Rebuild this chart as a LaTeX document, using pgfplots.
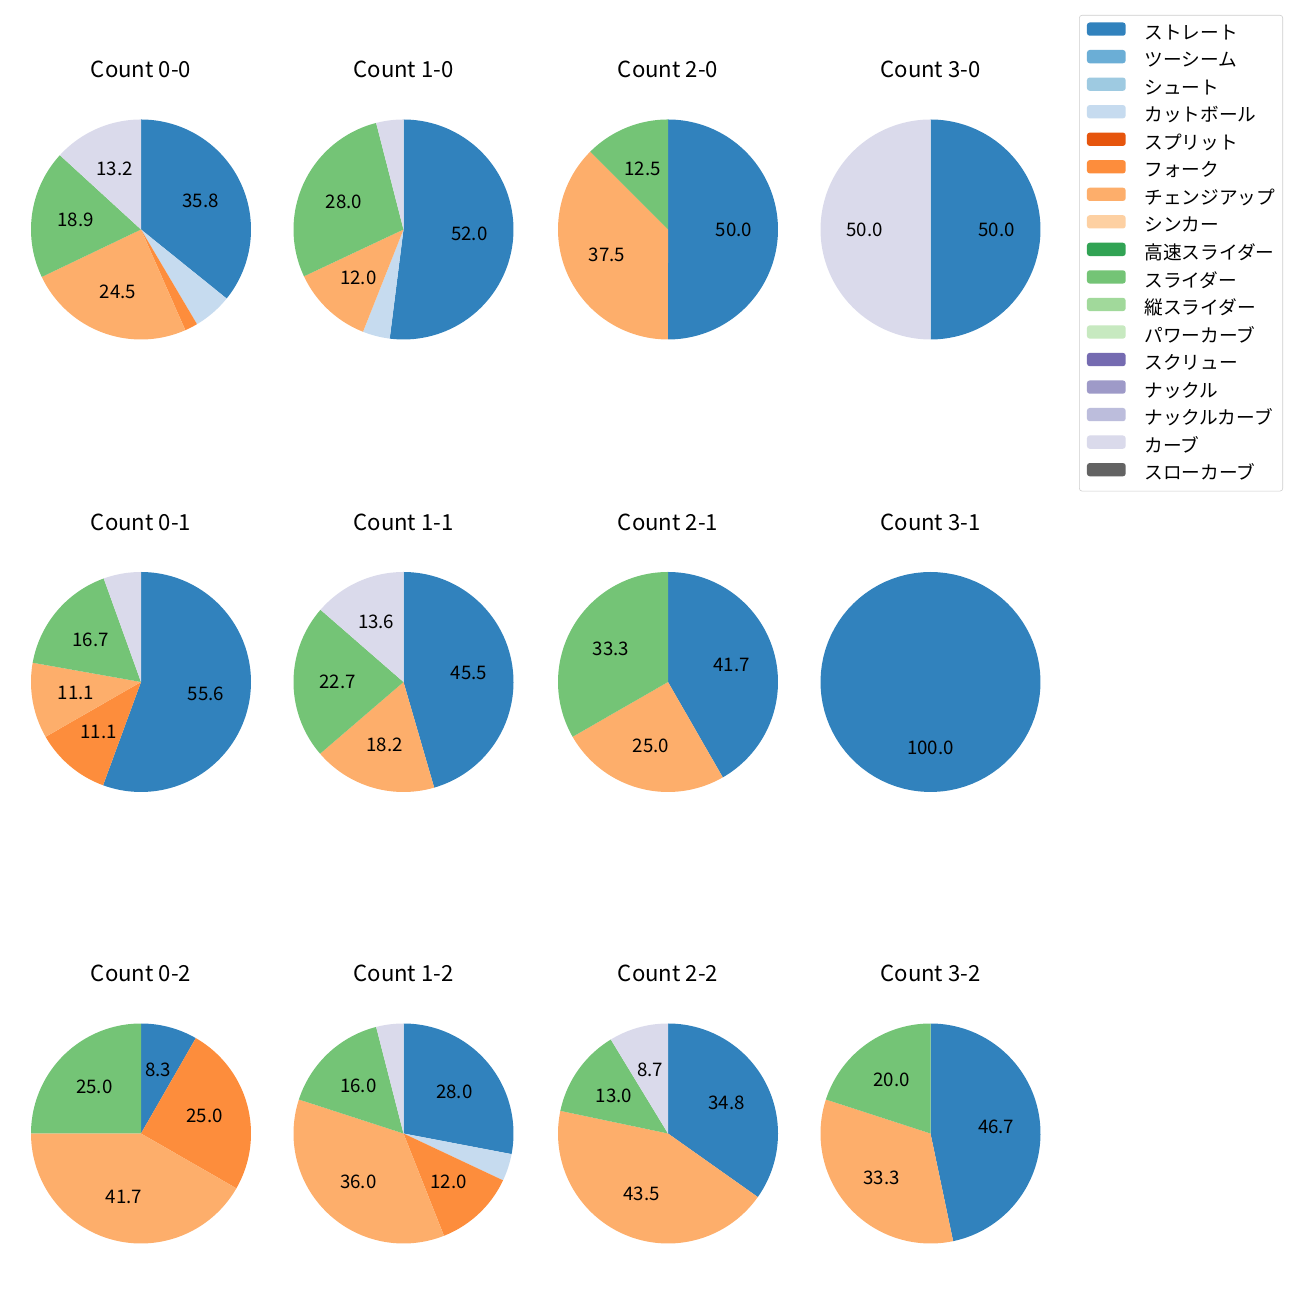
\documentclass[border=0pt]{standalone}
\usepackage{fontspec}
\setmainfont{Noto Sans CJK JP}
\usepackage{pgfplots}
\pgfplotsset{compat=1.18}

\definecolor{c0}{HTML}{3182BD}
\definecolor{c1}{HTML}{6BAED6}
\definecolor{c2}{HTML}{9ECAE1}
\definecolor{c3}{HTML}{C6DBEF}
\definecolor{c4}{HTML}{E6550D}
\definecolor{c5}{HTML}{FD8D3C}
\definecolor{c6}{HTML}{FDAE6B}
\definecolor{c7}{HTML}{FDD0A2}
\definecolor{c8}{HTML}{31A354}
\definecolor{c9}{HTML}{74C476}
\definecolor{c10}{HTML}{A1D99B}
\definecolor{c11}{HTML}{C7E9C0}
\definecolor{c12}{HTML}{756BB1}
\definecolor{c13}{HTML}{9E9AC8}
\definecolor{c14}{HTML}{BCBDDC}
\definecolor{c15}{HTML}{DADAEB}
\definecolor{c16}{HTML}{636363}

\newcommand\lblfont{\fontsize{13.5}{16}\selectfont}
\newcommand\titlefont{\fontsize{16}{19}\selectfont}

% one wedge: value (percent), colour; clockwise from the top
\newcommand\slice[2]{%
  \pgfmathsetmacro\sa{90-3.6*\cum}%
  \pgfmathsetmacro\nc{\cum+#1}%
  \pgfmathsetmacro\ea{90-3.6*\nc}%
  \pgfmathsetmacro\ma{(\sa+\ea)/2}%
  \pgfmathsetmacro\lx{0.6*cos(\ma)}%
  \pgfmathsetmacro\ly{0.6*sin(\ma)}%
  \xdef\cum{\nc}%
  \edef\doit{\noexpand\addplot[draw=none,fill=#2,domain=\ea:\sa,samples=90] ({cos(x)},{sin(x)}) -- (axis cs:0,0) -- cycle;}%
  \doit
  \ifdim #1pt<7pt\relax\else
    \edef\doit{\noexpand\node[font=\noexpand\lblfont,inner sep=0pt] at (axis cs:\lx,\ly) {#1};}\doit
  \fi
}

\pgfplotsset{pieax/.style={scale only axis, width=2.2in, height=2.2in,
  xmin=-1, xmax=1, ymin=-1, ymax=1, hide axis, clip=false,
  title style={font=\titlefont, at={(0.5,1)}, anchor=center, yshift=0.415in}}}

\newcommand\pieaxis[4]{%
  \begin{axis}[pieax, at={(#1,#2)}, anchor=center, title={#3}]
  \gdef\cum{0}%
  #4
  \end{axis}}

\begin{document}
\begin{tikzpicture}
\path[use as bounding box] (0,0) rectangle (13in,13in);

% row 1
\pieaxis{1.41in}{10.705in}{Count 0-0}{\slice{35.8}{c0}\slice{5.7}{c3}\slice{1.9}{c5}\slice{24.5}{c6}\slice{18.9}{c9}\slice{13.2}{c15}}
\pieaxis{4.035in}{10.705in}{Count 1-0}{\slice{52.0}{c0}\slice{4.0}{c3}\slice{12.0}{c6}\slice{28.0}{c9}\slice{4.0}{c15}}
\pieaxis{6.68in}{10.705in}{Count 2-0}{\slice{50.0}{c0}\slice{37.5}{c6}\slice{12.5}{c9}}
\pieaxis{9.305in}{10.705in}{Count 3-0}{\slice{50.0}{c0}\slice{50.0}{c15}}
% row 2
\pieaxis{1.41in}{6.18in}{Count 0-1}{\slice{55.6}{c0}\slice{11.1}{c5}\slice{11.1}{c6}\slice{16.7}{c9}\slice{5.5}{c15}}
\pieaxis{4.035in}{6.18in}{Count 1-1}{\slice{45.5}{c0}\slice{18.2}{c6}\slice{22.7}{c9}\slice{13.6}{c15}}
\pieaxis{6.68in}{6.18in}{Count 2-1}{\slice{41.7}{c0}\slice{25.0}{c6}\slice{33.3}{c9}}
\pieaxis{9.305in}{6.18in}{Count 3-1}{\slice{100.0}{c0}}
% row 3
\pieaxis{1.41in}{1.665in}{Count 0-2}{\slice{8.3}{c0}\slice{25.0}{c5}\slice{41.7}{c6}\slice{25.0}{c9}}
\pieaxis{4.035in}{1.665in}{Count 1-2}{\slice{28.0}{c0}\slice{4.0}{c3}\slice{12.0}{c5}\slice{36.0}{c6}\slice{16.0}{c9}\slice{4.0}{c15}}
\pieaxis{6.68in}{1.665in}{Count 2-2}{\slice{34.8}{c0}\slice{43.5}{c6}\slice{13.0}{c9}\slice{8.7}{c15}}
\pieaxis{9.305in}{1.665in}{Count 3-2}{\slice{46.7}{c0}\slice{33.3}{c6}\slice{20.0}{c9}}

% legend
\begin{axis}[at={(12.83in,12.85in)}, anchor=north east, scale only axis,
  width=2.06in, height=4.77in, hide axis, xmin=0, xmax=1, ymin=0, ymax=1,
  legend cell align=left,
  legend image code/.code={\fill[#1,draw=none] (0pt,-1pt) rectangle (28pt,8.6pt);},
  legend style={at={(1,1)}, anchor=north east, draw=black!20, rounded corners=2pt,
    font=\lblfont, inner xsep=5.5pt, inner ysep=5.2pt, row sep=4.8pt, column sep=13.5pt,
    nodes={inner sep=0pt, text height=10pt, text depth=3pt}}]
\addlegendimage{fill=c0}\addlegendentry{ストレート}
\addlegendimage{fill=c1}\addlegendentry{ツーシーム}
\addlegendimage{fill=c2}\addlegendentry{シュート}
\addlegendimage{fill=c3}\addlegendentry{カットボール}
\addlegendimage{fill=c4}\addlegendentry{スプリット}
\addlegendimage{fill=c5}\addlegendentry{フォーク}
\addlegendimage{fill=c6}\addlegendentry{チェンジアップ}
\addlegendimage{fill=c7}\addlegendentry{シンカー}
\addlegendimage{fill=c8}\addlegendentry{高速スライダー}
\addlegendimage{fill=c9}\addlegendentry{スライダー}
\addlegendimage{fill=c10}\addlegendentry{縦スライダー}
\addlegendimage{fill=c11}\addlegendentry{パワーカーブ}
\addlegendimage{fill=c12}\addlegendentry{スクリュー}
\addlegendimage{fill=c13}\addlegendentry{ナックル}
\addlegendimage{fill=c14}\addlegendentry{ナックルカーブ}
\addlegendimage{fill=c15}\addlegendentry{カーブ}
\addlegendimage{fill=c16}\addlegendentry{スローカーブ}
\end{axis}
\end{tikzpicture}
\end{document}
